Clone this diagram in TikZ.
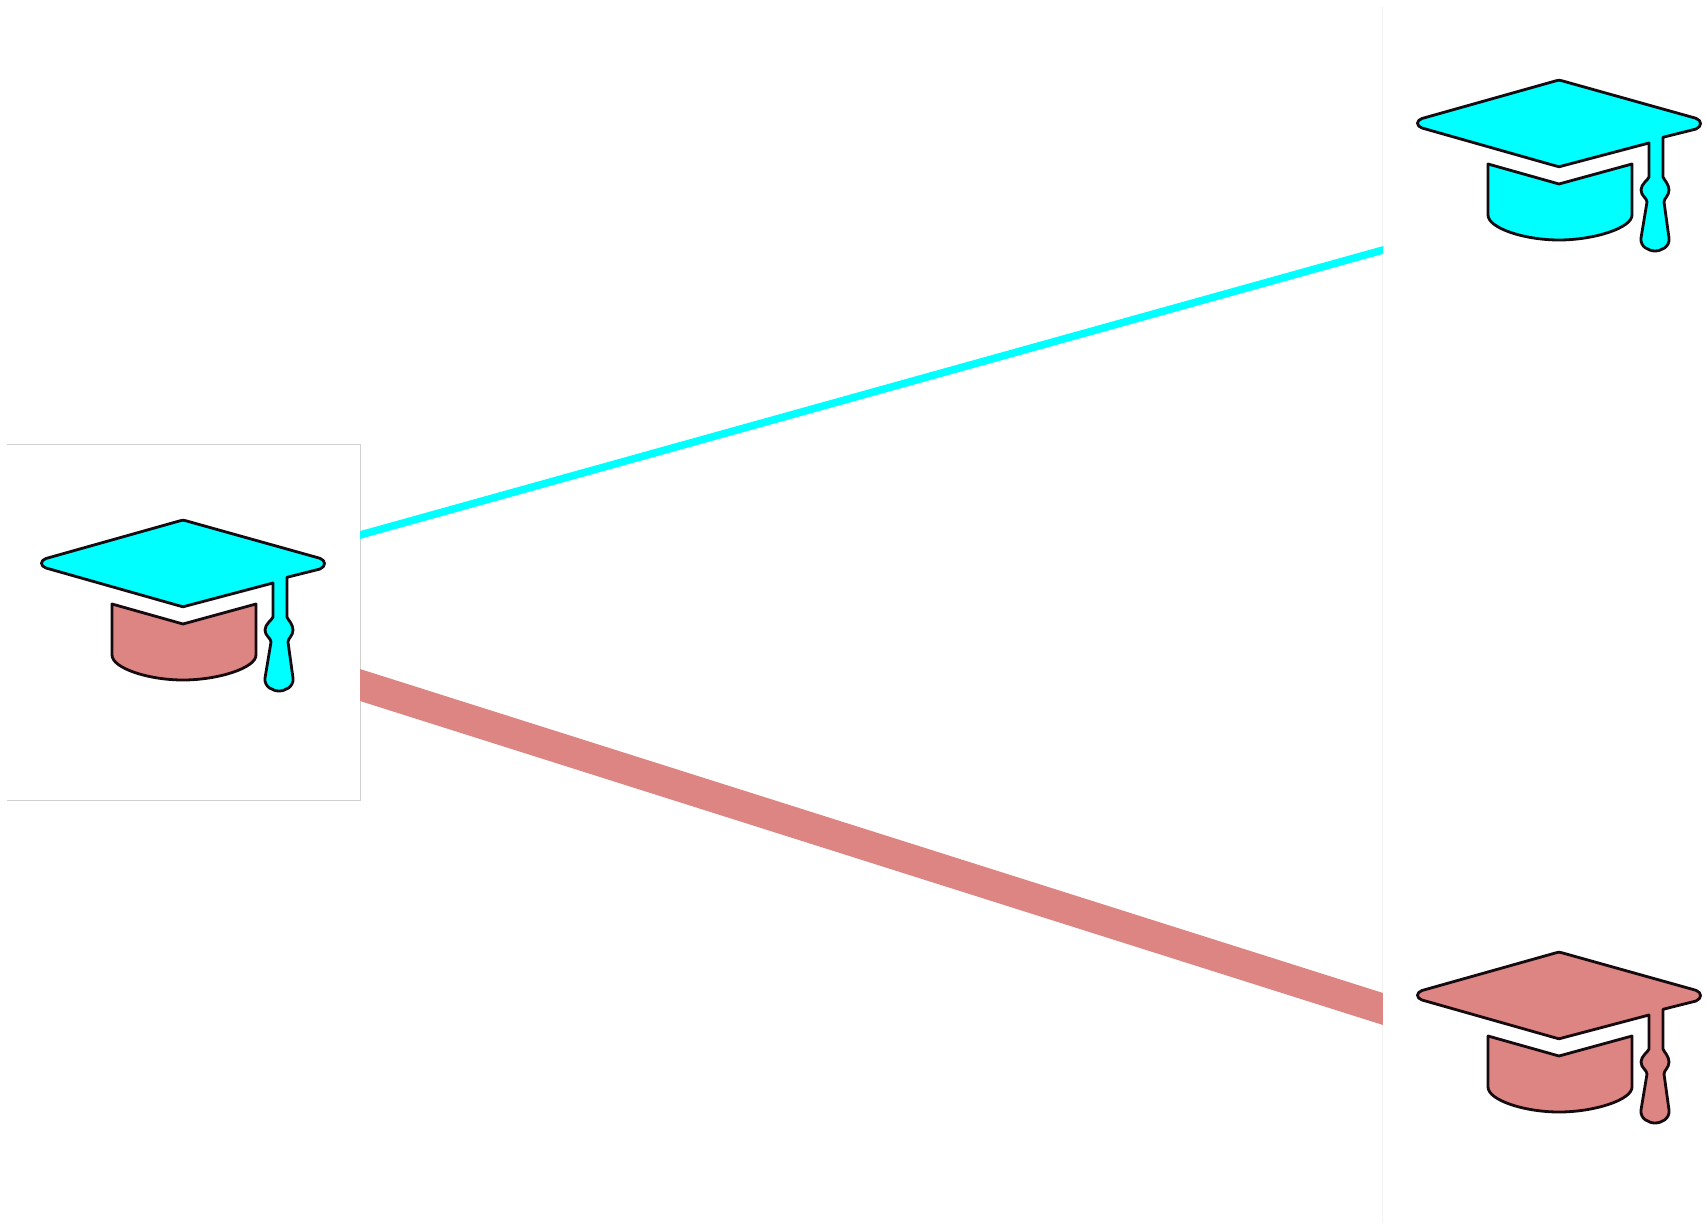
\documentclass[tikz,border=0pt]{standalone}
\definecolor{capcyan}{RGB}{0,255,255}
\definecolor{cappink}{RGB}{220,133,130}
\definecolor{capink}{RGB}{20,10,15}
\tikzset{
  capline/.style={draw=capink,line width=2.8pt,line join=round},
  panelleft/.style={draw=none,inner sep=0pt,minimum width=353pt,minimum height=355pt},
  panelright/.style={draw=none,inner sep=0pt,minimum width=324pt,minimum height=1216pt},
  edgeleft/.style={draw=black!18,line width=0.9pt},
  edgeright/.style={draw=black!5,line width=0.9pt},
  linkcyan/.style={draw=capcyan,line width=7.5pt,shorten <=-8pt,shorten >=-8pt},
  linkpink/.style={draw=cappink,line width=30.5pt,shorten <=-12pt,shorten >=-12pt}
}
\newcommand{\gradcap}[4]{%
  \begin{scope}[shift={(#1,#2)}]
    \path[capline,fill=#4] (-71,84) -- (0,104) -- (73,84) -- (73,135)
      .. controls (73,148) and (35,160) .. (0,160)
      .. controls (-35,160) and (-71,148) .. (-71,135) -- cycle;
    \path[capline,fill=#3] (90,63) -- (3,86) .. controls (1,87) and (-1,87) .. (-3,86)
      -- (-137,48) .. controls (-143,46) and (-143,40.5) .. (-137,38.5)
      -- (-3,0.8) .. controls (-1,0) and (1,0) .. (3,0.8)
      -- (137,38.3) .. controls (143,40.5) and (143,46.5) .. (137,49)
      -- (104,57.3) -- (104,97)
      .. controls (105,100) and (110,104) .. (110,110)
      .. controls (110,116) and (105,118) .. (105,122)
      -- (110,158) .. controls (111,167) and (102,171) .. (96,171)
      .. controls (90,171) and (81,167) .. (82,158)
      -- (88,122) .. controls (88,118) and (82,116) .. (82,110)
      .. controls (82,104) and (89,100) .. (90,97) -- cycle;
  \end{scope}%
}
\begin{document}
\begin{tikzpicture}[x=1pt,y=-1pt]
  \useasboundingbox (0,0) rectangle (1707,1225);
  \fill[white] (0,0) rectangle (1707,1225);
  \node[panelleft] (lb) at (183.5,622.5) {};
  \node[panelright] (rb) at (1545,615) {};
  \draw[edgeleft] (lb.north west) -- (lb.north east) -- (lb.south east) -- (lb.south west);
  \draw[edgeright] (rb.north west) -- (rb.south west);
  \coordinate (cyanA) at (360,535);
  \coordinate (cyanB) at (1383,250);
  \coordinate (pinkA) at (360,685);
  \coordinate (pinkB) at (1383,1009);
  \begin{scope}
    \clip (lb.east |- 0,0) rectangle (rb.west |- 0,1225);
    \draw[linkcyan] (cyanA) -- (cyanB);
    \draw[linkpink] (pinkA) -- (pinkB);
  \end{scope}
  \gradcap{183}{520}{capcyan}{cappink}
  \gradcap{1559}{80}{capcyan}{capcyan}
  \gradcap{1559}{952}{cappink}{cappink}
\end{tikzpicture}
\end{document}
